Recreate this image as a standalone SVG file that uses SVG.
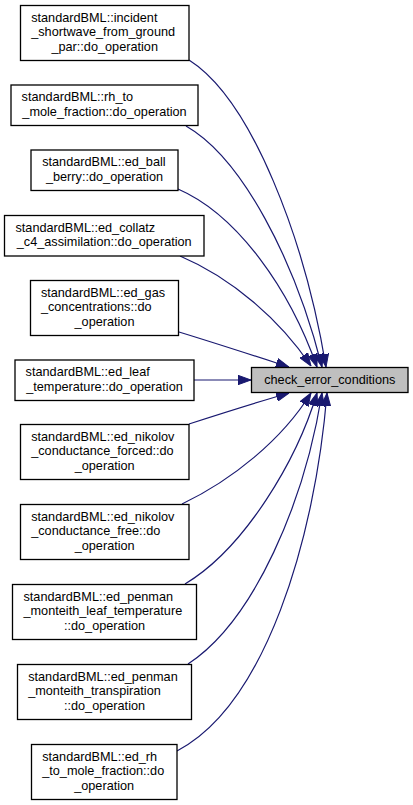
<svg xmlns="http://www.w3.org/2000/svg" width="413" height="805" viewBox="0 0 413 805">
<style>
.box{fill:#ffffff;stroke:#000000;stroke-width:1.3}
.tgt{fill:#bfbfbf;stroke:#000000;stroke-width:1.3}
text{font-family:"Liberation Sans",Arial,Helvetica,sans-serif;font-size:12.7px;fill:#000000}
.s{text-anchor:start}
.m{text-anchor:middle}
.e{fill:none;stroke:#191970;stroke-width:1.2;marker-end:url(#ah)}
</style>
<defs>
<marker id="ah" markerUnits="userSpaceOnUse" viewBox="0 0 13 10" markerWidth="13" markerHeight="10" refX="13" refY="5" orient="auto">
<path d="M0,0.3 L13,5 L0,9.7 Z" fill="#191970" stroke="#191970" stroke-width="1"/>
</marker>
</defs>
<rect width="413" height="805" fill="#ffffff"/>
<g id="connectors">
<path class="e" d="M189,60 C252,100 305,240 326,367"/>
<path class="e" d="M186,126 C242,158 295,260 322,367"/>
<path class="e" d="M178,189 C238,215 290,290 317,367"/>
<path class="e" d="M180,256 C232,278 280,320 311,366"/>
<path class="e" d="M179,332 C215,343 255,356 289,367"/>
<path class="e" d="M194,380 L251,380"/>
<path class="e" d="M189,424 C220,414 258,402 289,393"/>
<path class="e" d="M182,504 C232,480 282,440 311,393"/>
<path class="e" d="M185,584 C245,548 297,460 317,393"/>
<path class="e" d="M188,664 C255,620 305,500 322,393"/>
<path class="e" d="M177,751 C265,705 315,540 327,393"/>
</g>
<g id="target">
<rect class="tgt" x="251.5" y="367.5" width="156.5" height="25"/>
<text class="m" x="329.8" y="384">check_error_conditions</text>
</g>
<g id="n1">
<rect class="box" x="20.5" y="5.5" width="168.5" height="55"/>
<text class="s" x="31.2" y="21.8">standardBML::incident</text>
<text class="s" x="31.2" y="36.3">_shortwave_from_ground</text>
<text class="m" x="104.7" y="50.8">_par::do_operation</text>
</g>
<g id="n2">
<rect class="box" x="11" y="85" width="187" height="40.5"/>
<text class="s" x="21.6" y="101.3">standardBML::rh_to</text>
<text class="m" x="104.5" y="115.8">_mole_fraction::do_operation</text>
</g>
<g id="n3">
<rect class="box" x="31" y="150" width="147" height="40.5"/>
<text class="s" x="42.2" y="166.3">standardBML::ed_ball</text>
<text class="m" x="104.5" y="180.8">_berry::do_operation</text>
</g>
<g id="n4">
<rect class="box" x="4.5" y="215.5" width="199.5" height="40.5"/>
<text class="s" x="15.5" y="231.8">standardBML::ed_collatz</text>
<text class="m" x="104.2" y="246.3">_c4_assimilation::do_operation</text>
</g>
<g id="n5">
<rect class="box" x="30.5" y="280.5" width="148" height="55"/>
<text class="s" x="40.9" y="296.8">standardBML::ed_gas</text>
<text class="s" x="40.9" y="311.3">_concentrations::do</text>
<text class="m" x="104.5" y="325.8">_operation</text>
</g>
<g id="n6">
<rect class="box" x="15" y="360" width="179" height="40.5"/>
<text class="s" x="25.6" y="376.3">standardBML::ed_leaf</text>
<text class="m" x="104.5" y="390.8">_temperature::do_operation</text>
</g>
<g id="n7">
<rect class="box" x="20.5" y="424.5" width="168.5" height="55"/>
<text class="s" x="31.2" y="440.8">standardBML::ed_nikolov</text>
<text class="s" x="31.2" y="455.3">_conductance_forced::do</text>
<text class="m" x="104.7" y="469.8">_operation</text>
</g>
<g id="n8">
<rect class="box" x="20.5" y="504.5" width="168.5" height="55"/>
<text class="s" x="31.2" y="520.8">standardBML::ed_nikolov</text>
<text class="s" x="31.2" y="535.3">_conductance_free::do</text>
<text class="m" x="104.7" y="549.8">_operation</text>
</g>
<g id="n9">
<rect class="box" x="12.5" y="584.5" width="184" height="55"/>
<text class="s" x="23.5" y="600.8">standardBML::ed_penman</text>
<text class="s" x="23.5" y="615.3">_monteith_leaf_temperature</text>
<text class="m" x="104.5" y="629.8">::do_operation</text>
</g>
<g id="n10">
<rect class="box" x="17.5" y="664.5" width="174" height="55"/>
<text class="s" x="28.2" y="680.8">standardBML::ed_penman</text>
<text class="s" x="28.2" y="695.3">_monteith_transpiration</text>
<text class="m" x="104.5" y="709.8">::do_operation</text>
</g>
<g id="n11">
<rect class="box" x="31.5" y="744.5" width="145.5" height="55"/>
<text class="s" x="42.2" y="760.8">standardBML::ed_rh</text>
<text class="s" x="42.2" y="775.3">_to_mole_fraction::do</text>
<text class="m" x="104.2" y="789.8">_operation</text>
</g>
</svg>
